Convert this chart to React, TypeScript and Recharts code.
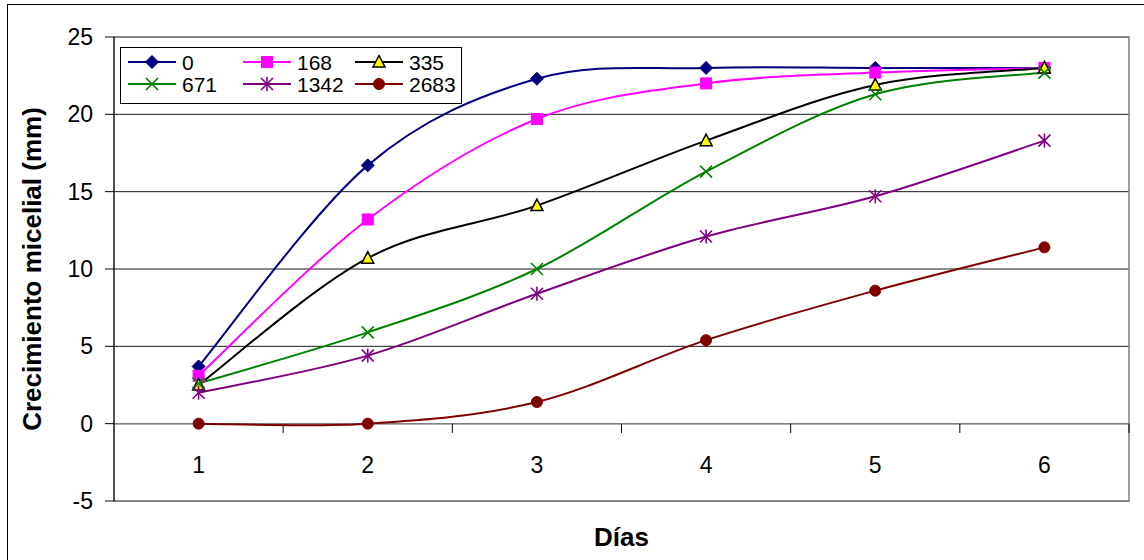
import React from 'react';
import { LineChart, Line, XAxis, YAxis, CartesianGrid, ReferenceLine, ReferenceArea } from 'recharts';

// Días de incubación
const dias = [1, 2, 3, 4, 5, 6];

// Crecimiento micelial (mm) por concentración
const c0 = [3.7, 16.7, 22.3, 23.0, 23.0, 23.0];
const c168 = [3.1, 13.2, 19.7, 22.0, 22.7, 23.0];
const c335 = [2.5, 10.7, 14.1, 18.3, 21.9, 23.0];
const c671 = [2.6, 5.9, 10.0, 16.3, 21.3, 22.7];
const c1342 = [2.0, 4.4, 8.4, 12.1, 14.7, 18.3];
const c2683 = [0.0, 0.0, 1.4, 5.4, 8.6, 11.4];

const yTicks = [-5, 0, 5, 10, 15, 20, 25];
const catBounds = [1.5, 2.5, 3.5, 4.5, 5.5, 6.5];

type Shape = 'diamond' | 'square' | 'triangle' | 'x' | 'star' | 'circle';

const series: { key: string; name: string; values: number[]; color: string; fill: string; shape: Shape }[] = [
  { key: 's0', name: '0', values: c0, color: '#000080', fill: '#000080', shape: 'diamond' },
  { key: 's168', name: '168', values: c168, color: '#FF00FF', fill: '#FF00FF', shape: 'square' },
  { key: 's335', name: '335', values: c335, color: '#000000', fill: '#FFFF00', shape: 'triangle' },
  { key: 's671', name: '671', values: c671, color: '#008000', fill: '#008000', shape: 'x' },
  { key: 's1342', name: '1342', values: c1342, color: '#800080', fill: '#800080', shape: 'star' },
  { key: 's2683', name: '2683', values: c2683, color: '#800000', fill: '#800000', shape: 'circle' },
];

const data = dias.map((d, i) => {
  const row: Record<string, number> = { dia: d };
  series.forEach((s) => { row[s.key] = s.values[i]; });
  return row;
});

const FONT = '"Liberation Sans", Arial, sans-serif';

// Spreadsheet-style smoothed line: cubic Bézier with Catmull-Rom tangents
class SmoothCurve {
  ctx: any;
  xs: number[] = [];
  ys: number[] = [];
  constructor(ctx: any) { this.ctx = ctx; }
  areaStart() {}
  areaEnd() {}
  lineStart() { this.xs = []; this.ys = []; }
  point(x: number, y: number) { this.xs.push(+x); this.ys.push(+y); }
  lineEnd() {
    const { xs, ys, ctx } = this;
    const n = xs.length;
    if (!n) return;
    ctx.moveTo(xs[0], ys[0]);
    const tx = (i: number) => (xs[Math.min(i + 1, n - 1)] - xs[Math.max(i - 1, 0)]) / 6;
    const ty = (i: number) => (ys[Math.min(i + 1, n - 1)] - ys[Math.max(i - 1, 0)]) / 6;
    for (let i = 0; i < n - 1; i++) {
      ctx.bezierCurveTo(
        xs[i] + tx(i), ys[i] + ty(i),
        xs[i + 1] - tx(i + 1), ys[i + 1] - ty(i + 1),
        xs[i + 1], ys[i + 1],
      );
    }
  }
}
const smooth = (ctx: any) => new SmoothCurve(ctx);

function Marker({ shape, cx, cy, color, fill }: { shape: Shape; cx: number; cy: number; color: string; fill: string }) {
  switch (shape) {
    case 'diamond':
      return <polygon points={`${cx},${cy - 6.5} ${cx + 6.5},${cy} ${cx},${cy + 6.5} ${cx - 6.5},${cy}`} fill={fill} stroke={color} />;
    case 'square':
      return <rect x={cx - 5.5} y={cy - 5.5} width={11} height={11} fill={fill} stroke={color} />;
    case 'triangle':
      return <polygon points={`${cx},${cy - 6.5} ${cx + 6},${cy + 5} ${cx - 6},${cy + 5}`} fill={fill} stroke={color} strokeWidth={1.5} />;
    case 'x':
      return (
        <g stroke={color} strokeWidth={1.6}>
          <line x1={cx - 6} y1={cy - 6} x2={cx + 6} y2={cy + 6} />
          <line x1={cx - 6} y1={cy + 6} x2={cx + 6} y2={cy - 6} />
        </g>
      );
    case 'star':
      return (
        <g stroke={color} strokeWidth={1.6}>
          <line x1={cx - 6} y1={cy - 6} x2={cx + 6} y2={cy + 6} />
          <line x1={cx - 6} y1={cy + 6} x2={cx + 6} y2={cy - 6} />
          <line x1={cx} y1={cy - 7} x2={cx} y2={cy + 7} />
        </g>
      );
    default:
      return <circle cx={cx} cy={cy} r={5.5} fill={fill} stroke={color} />;
  }
}

function LegendBox() {
  const colX = [7, 122, 234];
  const rowY = [14, 36];
  return (
    <div style={{ position: 'absolute', left: 120, top: 47, width: 340, height: 55, border: '1px solid #000', background: '#fff' }}>
      <svg width={340} height={55} style={{ display: 'block' }}>
        {series.map((s, i) => {
          const x = colX[i % 3];
          const y = rowY[Math.floor(i / 3)];
          return (
            <g key={s.key}>
              <line x1={x} y1={y} x2={x + 48} y2={y} stroke={s.color} strokeWidth={2} />
              <Marker shape={s.shape} cx={x + 24} cy={y} color={s.color} fill={s.fill} />
              <text x={x + 54} y={y + 7.5} fontSize={21} fontFamily={FONT} fill="#000">{s.name}</text>
            </g>
          );
        })}
      </svg>
    </div>
  );
}

export default function App() {
  return (
    <div style={{ position: 'absolute', left: 0, top: 0, width: 1144, height: 560, overflow: 'hidden', background: '#fff', fontFamily: FONT }}>
      <div style={{ position: 'absolute', left: 7, top: 4, width: 1200, height: 600, borderLeft: '1px solid #000', borderTop: '1px solid #000' }} />
      <LineChart width={1144} height={560} data={data} margin={{ top: 37, right: 15, bottom: 0, left: 0 }} style={{ position: 'absolute', left: 0, top: 0 }}>
        <CartesianGrid vertical={false} stroke="#1a1a1a" />
        <ReferenceArea x1={0.5} x2={6.5} y1={-5} y2={25} fill="none" stroke="#808080" strokeWidth={1.5} fillOpacity={0} />
        <ReferenceLine y={0} stroke="#808080" strokeWidth={1.5} />
        {catBounds.map((b) => (
          <ReferenceLine key={b} segment={[{ x: b, y: 0 }, { x: b, y: -0.6 }]} stroke="#000" />
        ))}
        <XAxis
          dataKey="dia"
          type="number"
          domain={[0.5, 6.5]}
          ticks={dias}
          interval={0}
          height={59}
          axisLine={false}
          tickLine={false}
          tickSize={0}
          tickMargin={0}
          tick={({ x, y, payload }: any) => (
            <text x={x} y={y - 28} textAnchor="middle" fontSize={23} fontFamily={FONT} fill="#000">{payload.value}</text>
          )}
          label={({ viewBox }: any) => (
            <text x={viewBox.x + viewBox.width / 2} y={viewBox.y + 45} textAnchor="middle" fontSize={26} fontWeight="bold" fontFamily={FONT} fill="#000">Días</text>
          )}
        />
        <YAxis
          domain={[-5, 25]}
          ticks={yTicks}
          interval={0}
          width={114}
          axisLine={{ stroke: '#000' }}
          tickLine={{ stroke: '#000' }}
          tickSize={9}
          tickMargin={12}
          tick={{ fontSize: 23, fontFamily: FONT, fill: '#000' }}
          label={({ viewBox }: any) => {
            const cx = 32;
            const cy = viewBox.y + viewBox.height / 2;
            return (
              <text x={cx} y={cy} transform={`rotate(-90, ${cx}, ${cy})`} textAnchor="middle" dominantBaseline="central" fontSize={26} fontWeight="bold" fontFamily={FONT} fill="#000">
                Crecimiento micelial (mm)
              </text>
            );
          }}
        />
        {series.map((s) => (
          <Line
            key={s.key}
            dataKey={s.key}
            name={s.name}
            type={smooth as any}
            stroke={s.color}
            strokeWidth={2}
            isAnimationActive={false}
            activeDot={false}
            dot={(p: any) => <Marker key={`${s.key}-${p.index}`} shape={s.shape} cx={p.cx} cy={p.cy} color={s.color} fill={s.fill} />}
          />
        ))}
      </LineChart>
      <LegendBox />
    </div>
  );
}
